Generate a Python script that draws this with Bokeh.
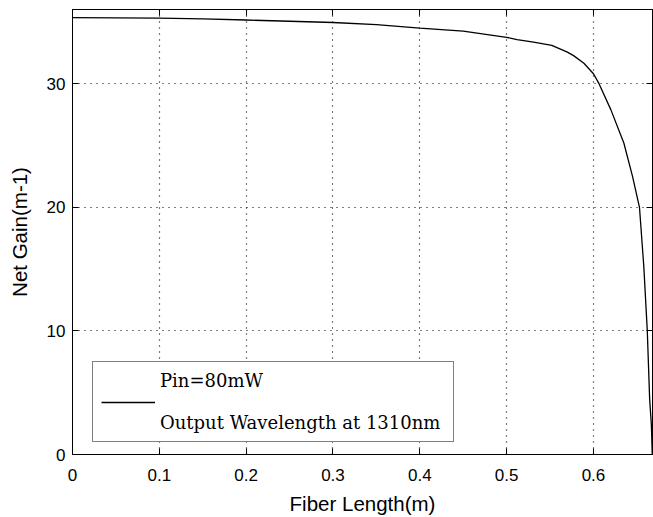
from bokeh.plotting import figure
from bokeh.models import (LinearAxis, FixedTicker, Range1d, Legend, LegendItem,
                          CustomJSTickFormatter)
from bokeh.embed import file_html
from bokeh.resources import INLINE

# Data
fiber_length = [0.0, 0.05, 0.1, 0.15, 0.2, 0.25, 0.3, 0.35, 0.4, 0.45, 0.5,
                0.512, 0.531, 0.552, 0.57, 0.5775, 0.589, 0.6, 0.6064, 0.62,
                0.635, 0.645, 0.653, 0.658, 0.662, 0.6647, 0.6667, 0.6677]
net_gain = [35.35, 35.33, 35.3, 35.24, 35.15, 35.05, 34.95, 34.78, 34.5, 34.25,
            33.75, 33.57, 33.36, 33.09, 32.55, 32.25, 31.65, 30.8, 30.0, 27.9,
            25.2, 22.5, 20.0, 15.2, 10.0, 4.5, 2.4, 0.0]
x_ticks = [0, 0.1, 0.2, 0.3, 0.4, 0.5, 0.6]
x_tick_labels = ["0", "0.1", "0.2", "0.3", "0.4", "0.5", "0.6"]
y_ticks = [0, 10, 20, 30]
legend_label = "Pin=80mW\n\nOutput Wavelength at 1310nm"

p = figure(width=653, height=517, output_backend="svg", toolbar_location=None,
           x_range=Range1d(0, 0.668), y_range=Range1d(0, 36),
           min_border_left=72, min_border_right=1, min_border_top=9,
           min_border_bottom=61)
p.background_fill_color = "white"
p.border_fill_color = "white"
p.outline_line_color = "black"
p.outline_line_width = 1

line = p.line(fiber_length, net_gain, line_color="black", line_width=1.3)

tick_font = "Liberation Sans"
for ax in (p.xaxis[0], p.yaxis[0]):
    ax.major_tick_in = 6
    ax.major_tick_out = 0
    ax.minor_tick_line_color = None
    ax.axis_line_color = "black"
    ax.major_tick_line_color = "black"
    ax.major_label_text_font = tick_font
    ax.major_label_text_font_size = "17px"
    ax.major_label_text_color = "black"
    ax.axis_label_text_font = tick_font
    ax.axis_label_text_font_size = "20.5px"
    ax.axis_label_text_font_style = "normal"
    ax.axis_label_text_color = "black"

p.xaxis[0].ticker = FixedTicker(ticks=x_ticks)
p.xaxis[0].major_label_overrides = {t: l for t, l in zip(x_ticks, x_tick_labels)}
p.xaxis[0].major_label_standoff = 14
p.xaxis[0].axis_label = "Fiber Length(m)"
p.xaxis[0].axis_label_standoff = 8
p.yaxis[0].ticker = FixedTicker(ticks=y_ticks)
p.yaxis[0].major_label_standoff = 7
p.yaxis[0].axis_label = "Net Gain(m-1)"
p.yaxis[0].axis_label_standoff = 13

blank = CustomJSTickFormatter(code="return ''")
top = LinearAxis(ticker=FixedTicker(ticks=x_ticks), formatter=blank,
                 major_tick_in=6, major_tick_out=0, minor_tick_line_color=None,
                 major_label_standoff=0, major_label_text_font_size="1px",
                 axis_line_color="black")
right = LinearAxis(ticker=FixedTicker(ticks=y_ticks), formatter=blank,
                   major_tick_in=6, major_tick_out=0, minor_tick_line_color=None,
                   major_label_standoff=0, major_label_text_font_size="1px",
                   axis_line_color="black")
p.add_layout(top, "above")
p.add_layout(right, "right")

p.xgrid.ticker = FixedTicker(ticks=x_ticks)
p.ygrid.ticker = FixedTicker(ticks=y_ticks)
for g in (p.xgrid[0], p.ygrid[0]):
    g.grid_line_color = "black"
    g.grid_line_dash = "1 5"
    g.grid_line_width = 1.2
    g.grid_line_alpha = 1.0

legend = Legend(items=[LegendItem(label=legend_label, renderers=[line])],
                location=(20, 12), orientation="vertical")
legend.border_line_color = "black"
legend.border_line_width = 1
legend.background_fill_color = "white"
legend.background_fill_alpha = 1
legend.label_text_font = "DejaVu Serif"
legend.label_text_font_size = "18px"
legend.label_text_color = "black"
legend.glyph_width = 54
legend.label_standoff = 5
legend.label_width = 285
legend.padding = 8
legend.margin = 0
legend.spacing = 0
p.add_layout(legend, "center")

open("out.html", "w").write(file_html(p, INLINE))
